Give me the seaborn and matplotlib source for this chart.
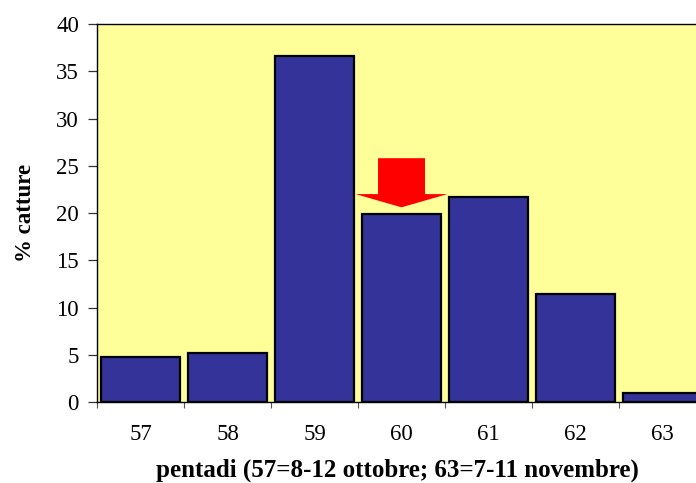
import matplotlib
matplotlib.use("Agg")
import matplotlib.pyplot as plt
import seaborn as sns
import pandas as pd
from matplotlib.patches import FancyArrow

# data
pentadi = ["57", "58", "59", "60", "61", "62", "63"]
catture = [4.8, 5.2, 36.6, 19.9, 21.7, 11.4, 0.9]
y_ticks = [0, 5, 10, 15, 20, 25, 30, 35, 40]
highlight = "60"

sns.set_theme(style="white")
plt.rcParams["font.family"] = ["Liberation Serif", "DejaVu Serif"]
plt.rcParams["text.color"] = "black"
plt.rcParams["axes.labelcolor"] = "black"
plt.rcParams["xtick.color"] = "black"
plt.rcParams["ytick.color"] = "black"

df = pd.DataFrame({"pentade": pentadi, "catture": catture})

fig = plt.figure(figsize=(6.96, 4.83), dpi=100)
fig.patch.set_facecolor("white")
ax = fig.add_axes([0.1394, 0.1677, 0.875, 0.7826])
ax.set_facecolor("#FFFF99")

sns.barplot(data=df, x="pentade", y="catture", order=pentadi, color="#333399",
            saturation=1, edgecolor="black", linewidth=1.6, width=0.9, ax=ax)

ax.set_ylim(0, 40)
ax.set_xlim(-0.5, len(pentadi) - 0.5)
ax.set_yticks(y_ticks)
ax.set_yticklabels([str(v) for v in y_ticks], fontsize=16.5, color="black")
ax.tick_params(axis="y", which="major", direction="out", length=6.5, width=0.9,
               color="#333333", pad=6.5, left=True)

# x: labels at centers, ticks at category boundaries
ax.set_xticks(range(len(pentadi)))
ax.set_xticklabels(pentadi, fontsize=16.5, color="black")
ax.tick_params(axis="x", which="major", length=0, pad=16)
ax.set_xticks([i - 0.5 for i in range(len(pentadi) + 1)], minor=True)
ax.tick_params(axis="x", which="minor", direction="out", length=4.5, width=0.8,
               color="#555555", bottom=True)

for s in ["top", "left", "bottom", "right"]:
    ax.spines[s].set_visible(True)
    ax.spines[s].set_color("black")
    ax.spines[s].set_linewidth(1.0)

ax.set_xlabel("pentadi (57=8-12 ottobre; 63=7-11 novembre)", fontsize=18,
              fontweight="bold", color="black")
ax.set_ylabel("% catture", fontsize=16.5, fontweight="bold", color="black")
ax.xaxis.set_label_coords(0.493, -0.15)
ax.yaxis.set_label_coords(-0.101, 0.5)

# red arrow pointing to the highlighted pentade
xi = pentadi.index(highlight)
yv = catture[xi]
arrow = FancyArrow(xi, yv + 5.9, 0, -5.2, width=0.54, head_width=1.055,
                   head_length=1.4, length_includes_head=True,
                   color="#FF0000", linewidth=0, zorder=5)
ax.add_patch(arrow)

fig.savefig("out.png", dpi=100)
